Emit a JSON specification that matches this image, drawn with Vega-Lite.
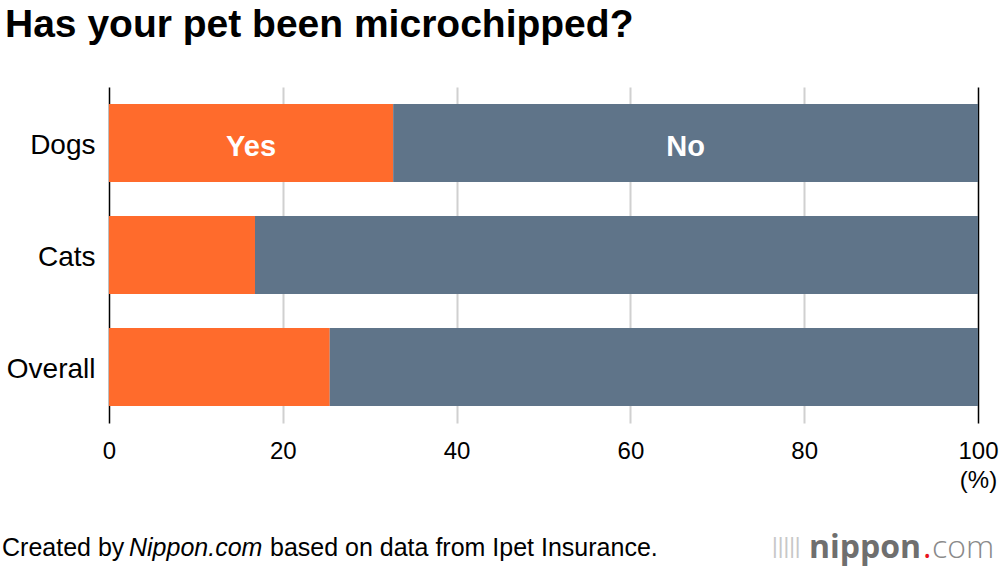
{
  "$schema": "https://vega.github.io/schema/vega-lite/v6.json",
  "width": 869,
  "height": 336,
  "autosize": {"type": "none"},
  "padding": {"left": 109, "top": 87, "right": 22, "bottom": 147},
  "config": {"font": "Liberation Sans", "view": {"stroke": null}},
  "title": {
    "text": "Has your pet been microchipped?",
    "anchor": "start",
    "frame": "group",
    "dx": -104,
    "offset": 11,
    "baseline": "alphabetic",
    "fontSize": 39,
    "fontWeight": "bold",
    "color": "#000"
  },
  "data": {
    "values": [
      {"pet": "Dogs", "answer": "Yes", "order": 1, "percent": 32.7},
      {"pet": "Dogs", "answer": "No", "order": 2, "percent": 67.3},
      {"pet": "Cats", "answer": "Yes", "order": 1, "percent": 16.8},
      {"pet": "Cats", "answer": "No", "order": 2, "percent": 83.2},
      {"pet": "Overall", "answer": "Yes", "order": 1, "percent": 25.4},
      {"pet": "Overall", "answer": "No", "order": 2, "percent": 74.6}
    ]
  },
  "layer": [
    {
      "mark": {"type": "bar"},
      "encoding": {
        "y": {
          "field": "pet",
          "type": "nominal",
          "sort": ["Dogs", "Cats", "Overall"],
          "scale": {"paddingInner": 0.304, "paddingOuter": 0.152},
          "axis": {
            "title": null,
            "domain": false,
            "ticks": false,
            "labelFontSize": 28,
            "labelPadding": 14,
            "labelOffset": 3,
            "labelColor": "#000"
          }
        },
        "x": {
          "field": "percent",
          "type": "quantitative",
          "stack": "zero",
          "scale": {"domain": [0, 100], "nice": false},
          "axis": {
            "values": [0, 20, 40, 60, 80, 100],
            "domain": false,
            "ticks": false,
            "grid": true,
            "gridColor": {"condition": {"test": "datum.value===0||datum.value===100", "value": "#000"}, "value": "#d0d0d0"},
            "gridWidth": {"condition": {"test": "datum.value===0||datum.value===100", "value": 1.5}, "value": 2},
            "labelFontSize": 24,
            "labelPadding": 16,
            "labelFlush": false,
            "labelColor": "#000",
            "title": "(%)",
            "titleFontSize": 24,
            "titleFontWeight": "normal",
            "titleColor": "#000",
            "titleX": 869,
            "titleY": 45,
            "titleAlign": "center",
            "titleBaseline": "top"
          }
        },
        "color": {
          "field": "answer",
          "type": "nominal",
          "scale": {"domain": ["Yes", "No"], "range": ["#FF6B2C", "#5F7489"]},
          "legend": null
        },
        "order": {"field": "order"}
      }
    },
    {
      "transform": [
        {"filter": "datum.pet==='Dogs'"},
        {"stack": "percent", "groupby": ["pet"], "sort": [{"field": "order"}], "as": ["p0", "p1"]},
        {"calculate": "(datum.p0+datum.p1)/2", "as": "mid"}
      ],
      "mark": {"type": "text", "color": "#fff", "fontSize": 29, "fontWeight": "bold", "baseline": "middle", "dy": 4},
      "encoding": {
        "x": {"field": "mid", "type": "quantitative"},
        "y": {"field": "pet", "type": "nominal", "sort": ["Dogs", "Cats", "Overall"]},
        "text": {"field": "answer"}
      }
    },
    {
      "data": {"values": [{"t": "Created by"}]},
      "mark": {"type": "text", "align": "left", "baseline": "alphabetic", "fontSize": 25, "color": "#000"},
      "encoding": {"x": {"value": -107}, "y": {"value": 469}, "text": {"field": "t"}}
    },
    {
      "data": {"values": [{"t": "Nippon.com"}]},
      "mark": {"type": "text", "align": "left", "baseline": "alphabetic", "fontSize": 25, "fontStyle": "italic", "color": "#000"},
      "encoding": {"x": {"value": 20}, "y": {"value": 469}, "text": {"field": "t"}}
    },
    {
      "data": {"values": [{"t": "based on data from Ipet Insurance."}]},
      "mark": {"type": "text", "align": "left", "baseline": "alphabetic", "fontSize": 25, "color": "#000"},
      "encoding": {"x": {"value": 161}, "y": {"value": 469}, "text": {"field": "t"}}
    },
    {
      "data": {"values": [{"t": "|||||"}]},
      "mark": {"type": "text", "align": "left", "baseline": "middle", "fontSize": 22, "color": "#c8c8c8"},
      "encoding": {"x": {"value": 663}, "y": {"value": 459}, "text": {"field": "t"}}
    },
    {
      "data": {"values": [{"t": "nippon"}]},
      "mark": {"type": "text", "align": "left", "baseline": "alphabetic", "fontSize": 32, "font": "Open Sans", "fontWeight": "bold", "color": "#6f6f6f"},
      "encoding": {"x": {"value": 700}, "y": {"value": 471}, "text": {"field": "t"}}
    },
    {
      "data": {"values": [{"t": "."}]},
      "mark": {"type": "text", "align": "left", "baseline": "alphabetic", "fontSize": 32, "font": "Open Sans", "color": "#e8141e"},
      "encoding": {"x": {"value": 814}, "y": {"value": 471}, "text": {"field": "t"}}
    },
    {
      "data": {"values": [{"t": "com"}]},
      "mark": {"type": "text", "align": "left", "baseline": "alphabetic", "fontSize": 32, "font": "Open Sans", "fontWeight": 300, "color": "#8a8a8a"},
      "encoding": {"x": {"value": 823}, "y": {"value": 471}, "text": {"field": "t"}}
    }
  ]
}
